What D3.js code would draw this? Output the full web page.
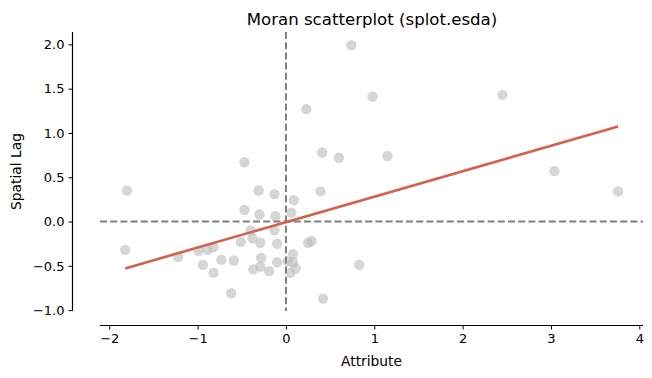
<!DOCTYPE html>
<html>
<head>
<meta charset="utf-8">
<script src="https://cdn.jsdelivr.net/npm/d3@7"></script>
<style>
  html, body { margin: 0; padding: 0; background: #fff; }
  svg { display: block; font-family: "DejaVu Sans", sans-serif; }
</style>
</head>
<body>
<svg id="chart" width="652" height="378"></svg>
<script>
// ---- Data ----
const attribute = [
  0.74, 0.98, 0.23, 2.45, 0.41, 0.60, 1.15, -0.47, 3.04, 3.76,
  -1.80, -0.31, -0.13, 0.09, 0.39, -0.47, -0.30, -0.12, 0.06, -0.40,
  -0.13, -0.51, -0.38, -0.29, -0.10, 0.25, 0.29, -1.82, -1.22, -0.99,
  -0.89, -0.82, -0.94, -0.82, -0.73, -0.59, -0.37, -0.29, -0.28, -0.19,
  -0.10, -0.62, 0.08, 0.02, 0.08, 0.11, 0.05, 0.83, 0.42
];
const spatialLag = [
  1.99, 1.41, 1.27, 1.43, 0.78, 0.72, 0.74, 0.67, 0.57, 0.34,
  0.35, 0.35, 0.31, 0.24, 0.34, 0.13, 0.08, 0.06, 0.10, -0.10,
  -0.10, -0.23, -0.19, -0.24, -0.25, -0.24, -0.22, -0.32, -0.40, -0.33,
  -0.32, -0.29, -0.49, -0.58, -0.43, -0.44, -0.54, -0.51, -0.41, -0.56,
  -0.46, -0.81, -0.37, -0.45, -0.46, -0.53, -0.58, -0.49, -0.87
];
const xTicks = [-2, -1, 0, 1, 2, 3, 4];
const yTicks = [-1.0, -0.5, 0.0, 0.5, 1.0, 1.5, 2.0];
const titleText = "Moran scatterplot (splot.esda)";
const xLabel = "Attribute";
const yLabel = "Spatial Lag";

// ---- Layout ----
const plot = { left: 100, right: 643, top: 32, bottom: 311 };
const leftSpineX = 73;
const bottomSpineY = 325;

const x = d3.scaleLinear().domain([-2.105, 4.042]).range([plot.left, plot.right]);
const y = d3.scaleLinear().domain([-1.01, 2.14]).range([plot.bottom, plot.top]);

const svg = d3.select("#chart");
const fmtMinus = s => s.replace("-", "\u2212");

// points
svg.append("g").selectAll("circle")
  .data(attribute.map((a, i) => [a, spatialLag[i]]))
  .join("circle")
  .attr("cx", d => x(d[0]))
  .attr("cy", d => y(d[1]))
  .attr("r", 5.2)
  .attr("fill", "#bababa")
  .attr("fill-opacity", 0.6);

// reference dashed lines
svg.append("line")
  .attr("x1", x(0)).attr("x2", x(0))
  .attr("y1", plot.top).attr("y2", plot.bottom)
  .attr("stroke", "#7f7f7f").attr("stroke-width", 2)
  .attr("stroke-dasharray", "7,3.2");
svg.append("line")
  .attr("x1", plot.left).attr("x2", plot.right)
  .attr("y1", y(0)).attr("y2", y(0))
  .attr("stroke", "#7f7f7f").attr("stroke-width", 2)
  .attr("stroke-dasharray", "7,3.2");

// OLS fit from the data
const mx = d3.mean(attribute), my = d3.mean(spatialLag);
let sxy = 0, sxx = 0;
attribute.forEach((a, i) => { sxy += (a - mx) * (spatialLag[i] - my); sxx += (a - mx) * (a - mx); });
const slope = sxy / sxx, intercept = my - slope * mx;
const [xmin, xmax] = d3.extent(attribute);
svg.append("line")
  .attr("x1", x(xmin)).attr("y1", y(intercept + slope * xmin))
  .attr("x2", x(xmax)).attr("y2", y(intercept + slope * xmax))
  .attr("stroke", "#d6604d").attr("stroke-width", 2.6);

// axes
const xAxis = d3.axisBottom(x).tickValues(xTicks).tickSize(4.5).tickPadding(4)
  .tickFormat(d => fmtMinus(d3.format("d")(d)));
const gx = svg.append("g").attr("transform", `translate(0,${bottomSpineY})`).call(xAxis);
gx.select(".domain").remove();
gx.append("line").attr("x1", plot.left).attr("x2", plot.right)
  .attr("y1", 0.5).attr("y2", 0.5).attr("stroke", "#000").attr("stroke-width", 1.2);

const yAxis = d3.axisLeft(y).tickValues(yTicks).tickSize(4.5).tickPadding(4)
  .tickFormat(d => fmtMinus(d3.format(".1f")(d)));
const gy = svg.append("g").attr("transform", `translate(${leftSpineX},0)`).call(yAxis);
gy.select(".domain").remove();
gy.append("line").attr("x1", -0.5).attr("x2", -0.5)
  .attr("y1", plot.top).attr("y2", y(-1.0)).attr("stroke", "#000").attr("stroke-width", 1.2);

[gx, gy].forEach(g => {
  g.selectAll("text").attr("font-family", "DejaVu Sans").attr("font-size", 13).attr("fill", "#000");
  g.selectAll(".tick line").attr("stroke", "#000").attr("stroke-width", 1);
});

// title and labels
svg.append("text").attr("x", (plot.left + plot.right) / 2 + 0.5).attr("y", 25)
  .attr("text-anchor", "middle").attr("font-size", 16.6).attr("fill", "#000").text(titleText);
svg.append("text").attr("x", (plot.left + plot.right) / 2).attr("y", 366)
  .attr("text-anchor", "middle").attr("font-size", 13.8).attr("fill", "#000").text(xLabel);
svg.append("text").attr("transform", `translate(21,${(plot.top + plot.bottom) / 2}) rotate(-90)`)
  .attr("text-anchor", "middle").attr("font-size", 13.8).attr("fill", "#000").text(yLabel);
</script>
</body>
</html>
